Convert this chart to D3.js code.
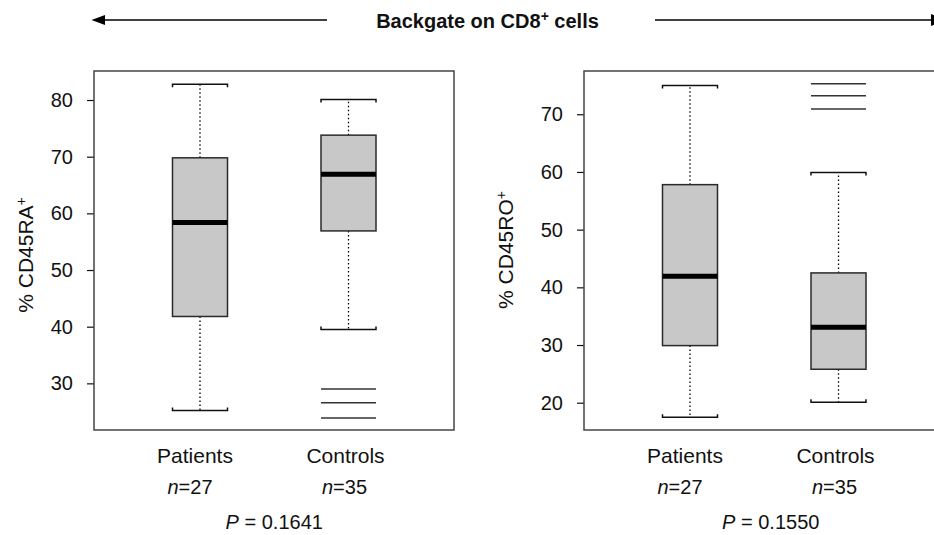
<!doctype html>
<html>
<head>
<meta charset="utf-8">
<style>
    body { margin: 0; background: #fff; }
    svg text { font-family: "Liberation Sans", Arial, Helvetica, sans-serif; fill: #111; }
    .box { fill: #c8c8c8; stroke: #2a2a2a; stroke-width: 1.5; }
    .median { stroke: #000; stroke-width: 5; }
    .whisker { stroke: #000; stroke-width: 1.3; stroke-dasharray: 1.5,2.5; }
    .cap { fill: none; stroke: #111; stroke-width: 1.5; }
    .outlier { stroke: #333; stroke-width: 1.5; }
    .frame { fill: none; stroke: #444; stroke-width: 1.5; }
</style>
</head>
<body>
<div id="chart"></div>
<script src="https://d3js.org/d3.v7.min.js"></script>
<script>

// data
var groups = ["Patients", "Controls"];
var nCounts = [27, 35];

// [lower whisker, q1, median, q3, upper whisker]
var raStats = [[25.2, 41.8, 58.4, 69.8, 82.8], [39.5, 56.9, 66.9, 73.8, 80.1]];
var raOutliers = [[], [29.0, 26.6, 23.9]];
var raTicks = [30, 40, 50, 60, 70, 80];
var raP = "0.1641";

var roStats = [[17.5, 29.9, 41.9, 57.8, 75.0], [20.1, 25.8, 33.1, 42.5, 59.9]];
var roOutliers = [[], [75.3, 73.2, 70.9]];
var roTicks = [20, 30, 40, 50, 60, 70];
var roP = "0.1550";

var W = 934, H = 535;

var svg = d3.select("#chart").append("svg")
    .attr("width", W)
    .attr("height", H);

// title with arrows
var title = svg.append("text")
    .attr("x", 487.5)
    .attr("y", 28)
    .attr("text-anchor", "middle")
    .attr("font-size", "20px")
    .attr("font-weight", "bold");
title.append("tspan").text("Backgate on CD8");
title.append("tspan").attr("dy", "-7").attr("font-size", "14px").text("+");
title.append("tspan").attr("dy", "7").text(" cells");

svg.append("line").attr("x1", 104).attr("x2", 327).attr("y1", 20).attr("y2", 20)
    .attr("stroke", "#000").attr("stroke-width", 1.5);
svg.append("path").attr("d", "M91.5,20 L105,15 L105,25 Z").attr("fill", "#000");
svg.append("line").attr("x1", 655).attr("x2", 932).attr("y1", 20).attr("y2", 20)
    .attr("stroke", "#000").attr("stroke-width", 1.5);
svg.append("path").attr("d", "M945,20 L931,14 L931,26 Z").attr("fill", "#000");

var panels = [
    {left: 94, stats: raStats, outliers: raOutliers, ticks: raTicks, domain: [21.77, 85.12],
     label: "% CD45RA", labelX: 33, labelY: 255, p: raP, pShift: 0},
    {left: 584, stats: roStats, outliers: roOutliers, ticks: roTicks, domain: [15.27, 77.5],
     label: "% CD45RO", labelX: 513, labelY: 250, p: roP, pShift: 6.5}
];

var plotTop = 71, plotBottom = 430, panelW = 360, boxW = 55;
var groupDx = [-5, -3], nDx = [-10, -4];

panels.forEach(function(p) {
    var g = svg.append("g").attr("transform", "translate(" + p.left + ",0)");

    var y = d3.scaleLinear().domain(p.domain).range([plotBottom, plotTop]);
    var x = d3.scalePoint().domain(groups).range([106, 254.5]);

    // axis
    var ax = g.append("g")
        .call(d3.axisLeft(y).tickValues(p.ticks).tickSize(7).tickPadding(14));
    ax.select(".domain").remove();
    ax.selectAll(".tick line").attr("stroke", "#111").attr("stroke-width", 1.2);
    ax.selectAll(".tick text").attr("font-size", "20px").attr("fill", "#111")
        .style("font-family", "'Liberation Sans', Arial, sans-serif");

    g.append("rect").attr("class", "frame")
        .attr("x", 0).attr("y", plotTop)
        .attr("width", panelW).attr("height", plotBottom - plotTop);

    var boxes = g.selectAll(".bx")
        .data(groups.map(function(name, i) {
            return {name: name, s: p.stats[i], out: p.outliers[i]};
        }))
        .enter().append("g");

    // whiskers
    boxes.append("line").attr("class", "whisker")
        .attr("x1", function(d) { return x(d.name); })
        .attr("x2", function(d) { return x(d.name); })
        .attr("y1", function(d) { return y(d.s[3]); })
        .attr("y2", function(d) { return y(d.s[4]); });
    boxes.append("line").attr("class", "whisker")
        .attr("x1", function(d) { return x(d.name); })
        .attr("x2", function(d) { return x(d.name); })
        .attr("y1", function(d) { return y(d.s[1]); })
        .attr("y2", function(d) { return y(d.s[0]); });

    // caps
    boxes.append("path").attr("class", "cap")
        .attr("d", function(d) {
            var cx = x(d.name), yy = y(d.s[4]);
            return "M" + (cx - boxW / 2) + "," + (yy + 3) + "V" + yy + "H" + (cx + boxW / 2) + "V" + (yy + 3);
        });
    boxes.append("path").attr("class", "cap")
        .attr("d", function(d) {
            var cx = x(d.name), yy = y(d.s[0]);
            return "M" + (cx - boxW / 2) + "," + (yy - 3) + "V" + yy + "H" + (cx + boxW / 2) + "V" + (yy - 3);
        });

    // box
    boxes.append("rect").attr("class", "box")
        .attr("x", function(d) { return x(d.name) - boxW / 2; })
        .attr("y", function(d) { return y(d.s[3]); })
        .attr("width", boxW)
        .attr("height", function(d) { return y(d.s[1]) - y(d.s[3]); });

    boxes.append("line").attr("class", "median")
        .attr("x1", function(d) { return x(d.name) - boxW / 2; })
        .attr("x2", function(d) { return x(d.name) + boxW / 2; })
        .attr("y1", function(d) { return y(d.s[2]); })
        .attr("y2", function(d) { return y(d.s[2]); });

    // outliers drawn as short lines
    boxes.each(function(d) {
        d3.select(this).selectAll(".outlier")
            .data(d.out)
            .enter().append("line").attr("class", "outlier")
            .attr("x1", x(d.name) - boxW / 2)
            .attr("x2", x(d.name) + boxW / 2)
            .attr("y1", function(v) { return y(v); })
            .attr("y2", function(v) { return y(v); });
    });

    // group names and counts
    groups.forEach(function(name, i) {
        g.append("text")
            .attr("x", x(name) + groupDx[i])
            .attr("y", 463)
            .attr("text-anchor", "middle")
            .attr("font-size", "21px")
            .text(name);
        var t = g.append("text")
            .attr("x", x(name) + nDx[i])
            .attr("y", 494)
            .attr("text-anchor", "middle")
            .attr("font-size", "20px");
        t.append("tspan").attr("font-style", "italic").text("n");
        t.append("tspan").text("=" + nCounts[i]);
    });

    var pt = g.append("text")
        .attr("x", (x(groups[0]) + x(groups[1])) / 2 + p.pShift)
        .attr("y", 529)
        .attr("text-anchor", "middle")
        .attr("font-size", "20px");
    pt.append("tspan").attr("font-style", "italic").text("P");
    pt.append("tspan").text(" = " + p.p);

    // y label
    var yl = svg.append("text")
        .attr("transform", "translate(" + p.labelX + "," + p.labelY + ") rotate(-90)")
        .attr("text-anchor", "middle")
        .attr("font-size", "21px");
    yl.append("tspan").text(p.label);
    yl.append("tspan").attr("dy", "-0.5em").attr("font-size", "14px").text("+");
});

</script>
</body>
</html>
